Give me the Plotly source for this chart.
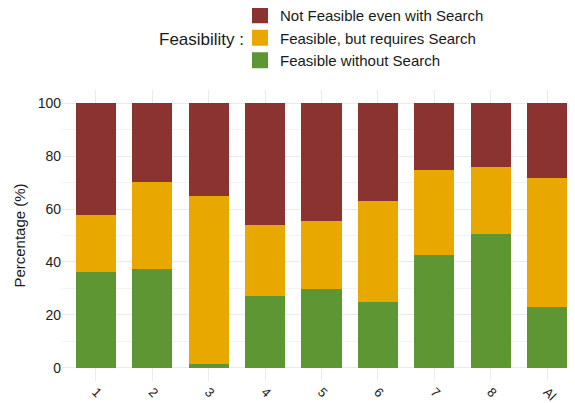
import plotly.graph_objects as go

categories = ["1", "2", "3", "4", "5", "6", "7", "8", "Al"]
feasible_without = [36.3, 37.5, 1.6, 27.3, 29.9, 25.0, 42.7, 50.7, 23.1]
feasible_search = [21.5, 32.8, 63.4, 26.8, 25.7, 38.1, 32.1, 25.2, 48.7]
not_feasible = [round(100 - a - b, 1) for a, b in zip(feasible_without, feasible_search)]

series_names = ["Not Feasible even with Search", "Feasible, but requires Search", "Feasible without Search"]
colors = {"Not Feasible even with Search": "#8B3330",
          "Feasible, but requires Search": "#E8A800",
          "Feasible without Search": "#5E9633"}
y_ticks = [0, 20, 40, 60, 80, 100]

FONT = "Liberation Sans, Arial, Helvetica, sans-serif"

fig = go.Figure()
stack = [("Feasible without Search", feasible_without),
         ("Feasible, but requires Search", feasible_search),
         ("Not Feasible even with Search", not_feasible)]
for name, vals in stack:
    fig.add_trace(go.Bar(x=categories, y=vals, name=name, marker_color=colors[name],
                         marker_line_width=0, showlegend=False, hoverinfo="skip"))

for name in series_names:
    fig.add_trace(go.Scatter(x=[None], y=[None], mode="markers", name=name,
                             marker=dict(symbol="square", size=18, color=colors[name]),
                             showlegend=True))

L, R, T, B = 54, 2, 82, 30
PW, PH = 575 - L - R, 403 - T - B
fig.update_layout(
    width=575, height=403,
    barmode="stack", bargap=0.29,
    plot_bgcolor="white", paper_bgcolor="white",
    margin=dict(l=L, r=R, t=T, b=B, autoexpand=False),
    font=dict(family=FONT, size=14, color="#1a1a1a"),
    legend=dict(orientation="v", traceorder="normal",
                x=(232 - L) / PW, xanchor="left", y=1 + (T + 9) / PH, yanchor="top",
                font=dict(size=15, color="#1a1a1a"), itemwidth=30,
                bgcolor="rgba(0,0,0,0)", tracegroupgap=0),
    annotations=[dict(text="Feasibility :", xref="paper", yref="paper",
                      x=(238 - L) / PW, xanchor="right",
                      y=1 + (T - 32) / PH, yanchor="middle",
                      showarrow=False, font=dict(size=17, color="#1a1a1a"))],
)
fig.update_xaxes(range=[-0.6, 8.6], tickangle=45, showgrid=True, gridcolor="#EBEBEB",
                 gridwidth=1, zeroline=False, showline=False, ticks="",
                 tickfont=dict(size=13, color="#222222"))
fig.update_yaxes(range=[-5, 105], tickvals=y_ticks, showgrid=True, gridcolor="#EBEBEB",
                 gridwidth=1, zeroline=False, showline=False, ticks="",
                 minor=dict(dtick=10, showgrid=True, gridcolor="#F3F3F3", gridwidth=1),
                 title=dict(text="Percentage (%)", font=dict(size=15, color="#1a1a1a"), standoff=8),
                 tickfont=dict(size=14, color="#222222"))

fig.write_html("out.html")
